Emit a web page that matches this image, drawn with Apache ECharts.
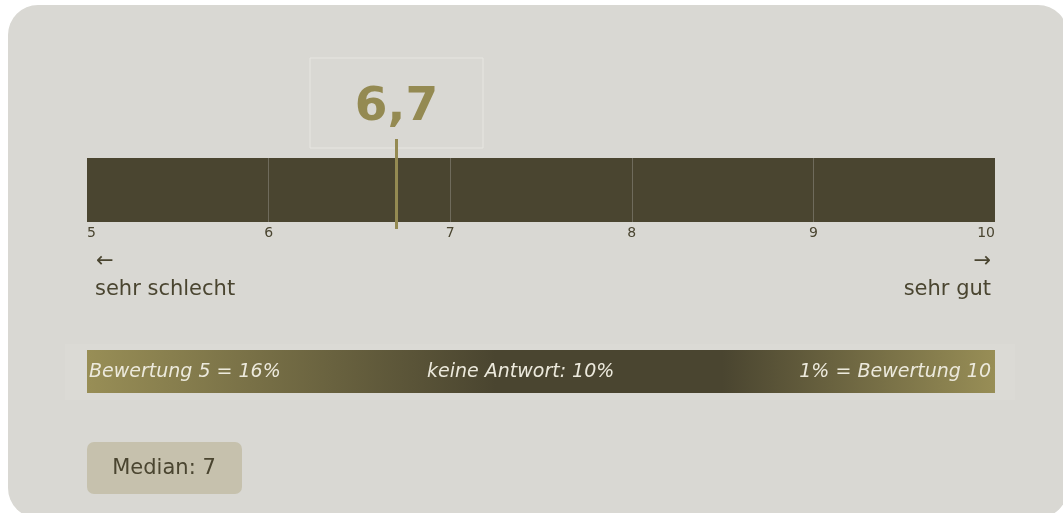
<!DOCTYPE html>
<html>
<head>
<meta charset="utf-8">
<script src="https://cdn.jsdelivr.net/npm/echarts@6/dist/echarts.min.js"></script>
<style>
html,body{margin:0;padding:0;background:#ffffff;}
#chart{width:1063px;height:513px;}
</style>
</head>
<body>
<div id="chart"></div>
<script>
// ---- data ----
const scaleRange = [5, 10];
const tickValues = [5, 6, 7, 8, 9, 10];
const meanValue = [6.7];
const medianValue = [7];
const scaleEndLabels = ['sehr schlecht', 'sehr gut'];
const scaleEndArrows = ['←', '→'];
const shareValues = [16, 10, 1];           // Bewertung 5, keine Antwort, Bewertung 10
const shareTexts = ['Bewertung 5 = ', 'keine Antwort: ', ' = Bewertung 10'];
const medianText = ['Median: '];

const FONT = 'DejaVu Sans';
const DARK = '#4a4530';
const OLIVE = '#948a52';

function de(v) { return String(v).replace('.', ','); }

const chart = echarts.init(document.getElementById('chart'), null, {renderer: 'canvas'});

const option = {
  backgroundColor: '#ffffff',
  animation: false,
  textStyle: {fontFamily: FONT},
  grid: {left: 87, right: 68, top: 158, height: 64, containLabel: false},
  xAxis: {
    type: 'value',
    min: scaleRange[0],
    max: scaleRange[1],
    interval: 1,
    z: 5,
    axisLine: {show: false},
    axisTick: {show: false},
    splitLine: {show: true, showMinLine: false, showMaxLine: false,
      lineStyle: {color: '#6f6b5c', width: 1}},
    axisLabel: {
      color: DARK, fontSize: 14, fontFamily: FONT, margin: 4,
      alignMinLabel: 'left', alignMaxLabel: 'right',
      customValues: tickValues
    }
  },
  yAxis: {type: 'category', data: [''], show: false},
  series: [
    {
      type: 'custom',
      z: 2,
      silent: true,
      data: [[scaleRange[0], scaleRange[1]]],
      renderItem: function (params, api) {
        const cs = params.coordSys;
        const p0 = api.coord([api.value(0), 0]);
        const p1 = api.coord([api.value(1), 0]);
        return {
          type: 'rect',
          shape: {x: p0[0], y: cs.y, width: p1[0] - p0[0], height: cs.height},
          style: {fill: DARK}
        };
      }
    },
    {
      type: 'custom',
      z: 10,
      silent: true,
      data: meanValue.map(v => [v, 0]),
      renderItem: function (params, api) {
        const cs = params.coordSys;
        const v = api.value(0);
        const p = api.coord([v, 0]);
        const x = Math.round(p[0]) + 0.5;
        return {
          type: 'group',
          children: [
            {
              type: 'rect',
              shape: {x: x - 86.5, y: cs.y - 100, width: 173, height: 90},
              style: {fill: 'rgba(0,0,0,0)', stroke: '#e7e6e1', lineWidth: 1}
            },
            {
              type: 'text',
              style: {
                x: x, y: cs.y - 50,
                text: de(v),
                fill: OLIVE,
                font: 'bold 47px "DejaVu Sans"',
                align: 'center', verticalAlign: 'middle'
              }
            },
            {
              type: 'line',
              shape: {x1: x, y1: cs.y - 19, x2: x, y2: cs.y + cs.height + 7},
              style: {stroke: OLIVE, lineWidth: 3}
            }
          ]
        };
      }
    }
  ],
  graphic: [
    {
      type: 'rect', z: -10, silent: true,
      shape: {x: 8, y: 5, width: 1060, height: 513, r: 30},
      style: {fill: '#d9d8d3'}
    },
    // scale end labels
    {type: 'text', z: 1, left: 96, top: 251,
      style: {text: scaleEndArrows[0], fill: DARK, font: '21px "DejaVu Sans"'}},
    {type: 'text', z: 1, left: 95, top: 279,
      style: {text: scaleEndLabels[0], fill: DARK, font: '21px "DejaVu Sans"'}},
    {type: 'text', z: 1, right: 1063 - 991, top: 251,
      style: {text: scaleEndArrows[1], fill: DARK, font: '21px "DejaVu Sans"'}},
    {type: 'text', z: 1, right: 1063 - 991, top: 279,
      style: {text: scaleEndLabels[1], fill: DARK, font: '21px "DejaVu Sans"'}},
    // share band
    {
      type: 'rect', z: -5, silent: true,
      shape: {x: 65, y: 344, width: 950, height: 56},
      style: {fill: '#dbdad5'}
    },
    {
      type: 'rect', z: 1, silent: true,
      shape: {x: 87, y: 350, width: 908, height: 43},
      style: {
        fill: new echarts.graphic.LinearGradient(0, 0, 1, 0, [
          {offset: 0, color: '#988e56'},
          {offset: 0.45, color: '#4a4530'},
          {offset: 0.7, color: '#4a4530'},
          {offset: 1, color: '#988e56'}
        ])
      }
    },
    {type: 'text', z: 2, left: 89, top: 363,
      style: {text: shareTexts[0] + shareValues[0] + '%', fill: '#ece9dc',
        font: 'italic 19px "DejaVu Sans"'}},
    {type: 'text', z: 2, left: 427, top: 363,
      style: {text: shareTexts[1] + shareValues[1] + '%', fill: '#ece9dc',
        font: 'italic 19px "DejaVu Sans"'}},
    {type: 'text', z: 2, right: 1063 - 991, top: 363,
      style: {text: shareValues[2] + '%' + shareTexts[2], fill: '#ece9dc',
        font: 'italic 19px "DejaVu Sans"'}},
    // median box
    {
      type: 'group', z: 1, left: 87, top: 442,
      children: [
        {type: 'rect', shape: {x: 0, y: 0, width: 155, height: 52, r: 7},
          style: {fill: '#c6c1ad'}},
        {type: 'text', style: {x: 77, y: 27, text: medianText[0] + medianValue[0],
          fill: DARK, font: '21px "DejaVu Sans"', align: 'center', verticalAlign: 'middle'}}
      ]
    }
  ]
};
chart.setOption(option);
</script>
</body>
</html>
